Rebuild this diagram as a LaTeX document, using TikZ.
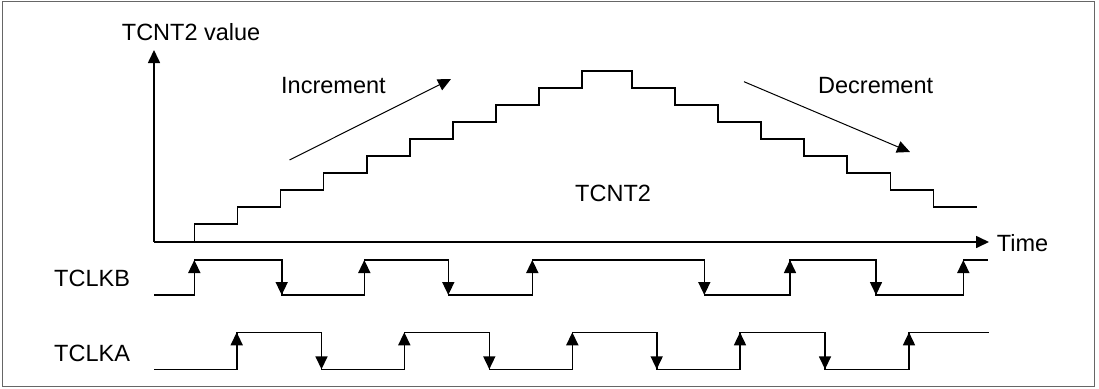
\documentclass[tikz,border=0pt]{standalone}
\usepackage{fontspec}
\setmainfont{Liberation Sans}
\usepackage{tikz}
\usetikzlibrary{arrows.meta}

\begin{document}
\begin{tikzpicture}[x=1pt, y=-1pt,
  lbl/.style={anchor=base west, inner sep=0pt, font=\fontsize{23.5}{28}\selectfont},
  sig/.style={line width=1.6pt},
  axis/.style={line width=1.6pt, -{Triangle[length=13pt,width=12pt]}},
  tick/.style={line width=1.6pt, -{Triangle[length=13pt,width=12pt]}}]
  \useasboundingbox (0,0) rectangle (1099,388);
  \draw[black!60, line width=1pt] (2.7,1.3) rectangle (1094,386);
  %% axes
  \coordinate (origin) at (154,242);
  \coordinate (ytip) at (154,50);
  \coordinate (xtip) at (989,242);
  \draw[axis] (origin) -- (ytip);
  \draw[axis] (origin) -- (xtip);
  \node[lbl] (valuelbl) at (121.7,40.7) {TCNT2 value};
  \node[lbl] (timelbl) at (996.7,251.7) {Time};
  %% counter staircase, up then down
  \draw[sig] (194.3,242) -- (194.3,224) -| (237.4,207) -| (280.5,190)
    -| (323.6,173) -| (366.7,156) -| (409.8,139) -| (452.9,122)
    -| (496,105) -| (539.1,88) -| (582.2,71) -| (631.7,88)
    -| (674.8,105) -| (717.9,122) -| (761,139) -| (804.1,156)
    -| (847.2,173) -| (890.3,190) -| (933.4,207) -- (976.7,207);
  \node[lbl] (cntlbl) at (575,201) {TCNT2};
  %% direction arrows
  \coordinate (incfrom) at (289.5,160);
  \coordinate (incto) at (451,79);
  \coordinate (decfrom) at (744,81.7);
  \coordinate (decto) at (910,152);
  \draw[axis, line width=1pt] (incfrom) -- (incto);
  \draw[axis, line width=1pt] (decfrom) -- (decto);
  \node[lbl] (inclbl) at (281,93) {Increment};
  \node[lbl] (declbl) at (818,93) {Decrement};
  %% TCLKB
  \node[lbl] (clkblbl) at (54,286) {TCLKB};
  \draw[sig] (154,295) -| (194.3,260) -| (281.7,295) -| (364.3,260)
    -| (448.3,295) -| (532.3,260) -| (704.3,295) -| (790,260)
    -| (876,295) -| (963.3,260) -- (988.3,260);
  \draw[tick] (194.3,295) -- (194.3,260);
  \draw[tick] (364.3,295) -- (364.3,260);
  \draw[tick] (532.3,295) -- (532.3,260);
  \draw[tick] (790,295) -- (790,260);
  \draw[tick] (963.3,295) -- (963.3,260);
  \draw[tick] (281.7,260) -- (281.7,295);
  \draw[tick] (448.3,260) -- (448.3,295);
  \draw[tick] (704.3,260) -- (704.3,295);
  \draw[tick] (876,260) -- (876,295);
  %% TCLKA
  \node[lbl] (clkalbl) at (54,361) {TCLKA};
  \draw[sig] (154,369.3) -| (236.7,332.3) -| (321.5,369.3) -| (404.3,332.3)
    -| (489.3,369.3) -| (572.3,332.3) -| (656.7,369.3) -| (740,332.3)
    -| (825,369.3) -| (909,332.3) -- (989,332.3);
  \draw[tick] (236.7,369.3) -- (236.7,332.3);
  \draw[tick] (404.3,369.3) -- (404.3,332.3);
  \draw[tick] (572.3,369.3) -- (572.3,332.3);
  \draw[tick] (740,369.3) -- (740,332.3);
  \draw[tick] (909,369.3) -- (909,332.3);
  \draw[tick] (321.5,332.3) -- (321.5,369.3);
  \draw[tick] (489.3,332.3) -- (489.3,369.3);
  \draw[tick] (656.7,332.3) -- (656.7,369.3);
  \draw[tick] (825,332.3) -- (825,369.3);
\end{tikzpicture}
\end{document}
